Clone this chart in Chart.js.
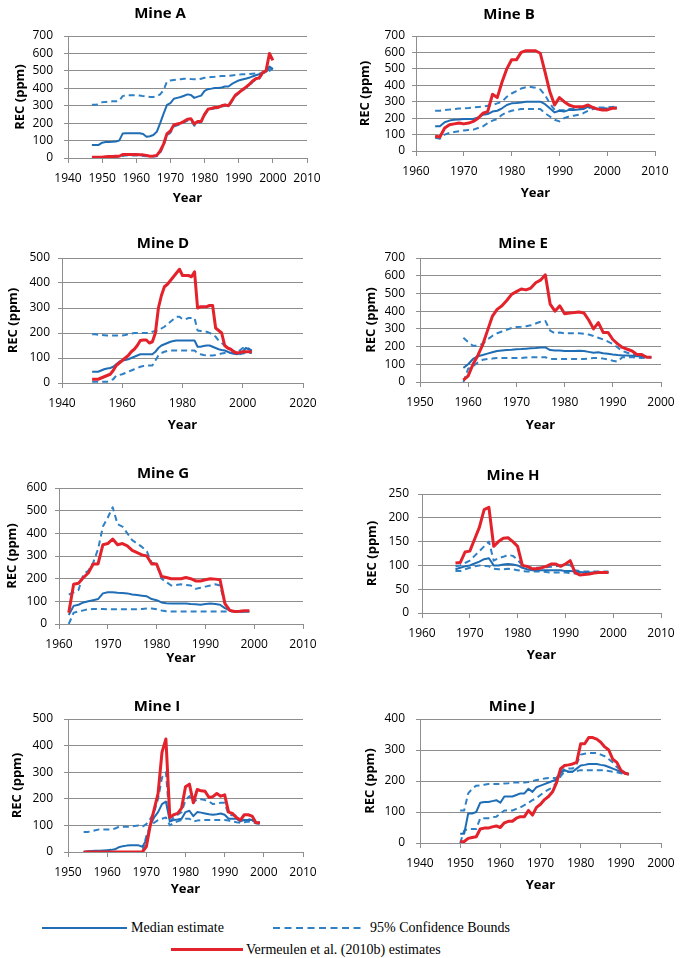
<!DOCTYPE html>
<html><head><meta charset="utf-8">
<script src="https://cdn.jsdelivr.net/npm/chart.js@4/dist/chart.umd.min.js"></script>
<style>
html,body{margin:0;padding:0;background:#fff;width:684px;height:958px;overflow:hidden;position:relative;}
canvas{position:absolute;}
.lg{position:absolute;font-family:'Liberation Serif','Times New Roman',serif;font-size:14px;color:#000;white-space:nowrap;line-height:16px;}
.ln{position:absolute;}
</style></head><body>
<script>
// ---------------- DATA ----------------
const yearsA = [1947,1948,1949,1950,1951,1952,1953,1954,1955,1956,1957,1958,1959,1960,1961,1962,1963,1964,1965,1966,1967,1968,1969,1970,1971,1972,1973,1974,1975,1976,1977,1978,1979,1980,1981,1982,1983,1984,1985,1986,1987,1988,1989,1990,1991,1992,1993,1994,1995,1996,1997,1998,1999,2000];
const medianA = [75,75,75,88,92,92,93,95,100,140, 142,142,142,142,142,138,122,125,132,150, 200,255,305,315,340,345,350,357,365,362, 345,352,358,385,395,398,402,402,405,410, 410,425,435,445,450,455,460,468,475,480, 488,500,525,510];
const upperA = [305,305,308,320,322,323,325,325,328,355, 360,360,360,360,358,355,352,350,350,355, 365,390,440,445,448,450,452,455,455,453, 452,450,455,460,462,465,466,468,470,470, 472,474,476,478,480,481,482,484,485,485, 488,490,500,515];
const lowerA = [0,0,0,0,2,3,4,5,6,12, 15,15,15,15,14,12,10,8,8,10, 30,70,130,145,180,188,195,205,215,215, 185,200,205,245,275,280,285,285,295,300, 295,325,355,370,385,400,415,435,450,455, 485,495,510,515];
const vermA = [5,5,5,5,7,8,8,10,10,20, 20,20,20,20,18,18,15,10,12,15, 40,80,140,155,190,195,200,210,222,225, 195,210,210,250,280,285,290,290,300,305, 300,330,360,375,390,405,420,440,455,460, 490,500,600,560];
const xTicksA = [1940,1950,1960,1970,1980,1990,2000,2010];
const yTicksA = [0,100,200,300,400,500,600,700];

const yearsB = [1964,1965,1966,1967,1968,1969,1970,1971,1972,1973,1974,1975,1976,1977,1978,1979,1980,1981,1982,1983,1984,1985,1986,1987,1988,1989,1990,1991,1992,1993,1994,1995,1996,1997,1998,1999,2000,2001,2002];
const medianB = [150,150,175,185,190,192,195,195,195,205, 220,225,240,245,260,280,290,292,295,300, 300,300,300,285,260,235,245,240,250,250, 252,255,270,265,255,255,255,260,265];
const upperB = [245,245,250,252,255,258,260,262,265,268, 270,275,280,290,300,330,350,365,380,388, 390,385,375,340,290,250,248,250,255,255, 258,260,262,265,265,265,265,268,270];
const lowerB = [80,75,100,110,115,120,125,128,130,140, 150,170,185,195,220,235,245,250,255,255, 255,255,255,230,210,190,180,200,210,215, 220,230,245,255,258,260,260,262,265];
const vermB = [90,85,140,160,165,170,165,170,180,200, 230,240,345,325,420,500,555,555,600,610, 610,610,595,480,360,280,325,300,280,270, 270,270,280,265,255,250,250,260,260];
const xTicksB = [1960,1970,1980,1990,2000,2010];
const yTicksB = [0,100,200,300,400,500,600,700];

const yearsD = [1950,1951,1952,1953,1954,1955,1956,1957,1958,1959,1960,1961,1962,1963,1964,1965,1966,1967,1968,1969,1970,1971,1972,1973,1974,1975,1976,1977,1978,1979,1980,1981,1982,1983,1984,1985,1986,1987,1988,1989,1990,1991,1992,1993,1994,1995,1996,1997,1998,1999,2000,2001,2002,2003];
const medianD = [45,45,45,50,55,58,60,65,75,85, 90,92,95,100,105,110,115,115,115,115, 115,125,140,150,155,160,165,168,170,170, 170,170,170,170,170,145,145,148,150,150, 145,140,135,132,130,125,120,118,115,118, 125,140,135,130];
const upperD = [195,195,193,192,191,190,190,190,190,190, 190,192,195,198,200,200,200,200,200,200, 205,208,210,218,225,235,245,255,265,265, 255,255,260,260,260,210,208,206,205,200, 195,185,170,160,150,140,135,128,125,130, 140,140,138,125];
const lowerD = [5,5,5,5,5,5,10,15,30,32, 35,40,45,50,55,60,65,68,70,70, 70,90,110,120,125,128,130,130,130,130, 130,130,130,130,130,120,115,112,110,110, 110,112,115,118,120,120,120,118,115,115, 118,120,120,120];
const vermD = [15,15,15,20,25,30,35,50,70,80, 90,100,110,125,135,150,170,172,172,160, 165,200,300,350,385,395,410,425,440,455, 430,430,430,425,445,300,305,305,305,310, 310,220,210,200,150,140,135,125,120,122, 125,125,125,125];
const xTicksD = [1940,1960,1980,2000,2020];
const yTicksD = [0,100,200,300,400,500];

const yearsE = [1959,1960,1961,1962,1963,1964,1965,1966,1967,1968,1969,1970,1971,1972,1973,1974,1975,1976,1977,1978,1979,1980,1981,1982,1983,1984,1985,1986,1987,1988,1989,1990,1991,1992,1993,1994,1995,1996,1997,1998];
const medianE = [80,100,130,145,152,160,168,175,178,180, 182,185,186,188,190,192,195,195,180,178, 178,175,175,175,176,175,170,165,168,162, 160,155,152,150,150,148,146,145,142,140];
const upperE = [250,225,205,205,215,240,260,275,285,295, 305,310,312,315,320,330,340,345,290,275, 280,275,275,275,275,272,268,260,250,240, 228,215,195,175,165,160,150,145,142,140];
const lowerE = [0,75,90,110,125,130,132,135,135,135, 135,135,136,138,140,140,140,140,130,130, 130,130,130,130,130,130,132,135,135,132, 128,120,115,140,140,140,138,135,138,140];
const vermE = [10,35,100,150,210,290,370,410,430,460, 495,510,525,520,530,560,575,605,440,400, 430,385,390,392,395,390,350,300,335,280, 280,240,215,195,185,175,155,155,140,140];
const xTicksE = [1950,1960,1970,1980,1990,2000];
const yTicksE = [0,100,200,300,400,500,600,700];

const yearsG = [1962,1963,1964,1965,1966,1967,1968,1969,1970,1971,1972,1973,1974,1975,1976,1977,1978,1979,1980,1981,1982,1983,1984,1985,1986,1987,1988,1989,1990,1991,1992,1993,1994,1995,1996,1997,1998,1999];
const medianG = [40,80,85,95,100,105,110,135,140,140, 138,137,135,130,128,125,122,110,105,95, 92,90,90,90,90,88,87,85,88,90, 88,85,70,60,55,55,55,55];
const upperG = [130,140,150,220,235,270,330,430,470,515, 440,430,400,370,355,340,320,270,265,200, 185,170,172,175,172,170,155,160,165,170, 175,170,90,60,55,55,55,55];
const lowerG = [0,50,55,60,65,66,66,66,65,65, 65,65,65,65,65,66,68,68,65,60, 56,55,55,55,55,55,55,55,55,55, 55,55,55,55,55,55,55,55];
const vermG = [50,175,180,205,225,265,265,350,355,375, 350,355,345,325,315,305,300,265,265,210, 205,200,200,200,205,200,190,190,195,200, 198,195,90,60,55,56,58,58];
const xTicksG = [1960,1970,1980,1990,2000,2010];
const yTicksG = [0,100,200,300,400,500,600];

const yearsH = [1967,1968,1969,1970,1971,1972,1973,1974,1975,1976,1977,1978,1979,1980,1981,1982,1983,1984,1985,1986,1987,1988,1989,1990,1991,1992,1993,1994,1995,1996,1997,1998,1999];
const medianH = [92,95,98,100,104,108,113,115,100,100, 102,103,102,100,95,92,90,90,90,90, 90,90,90,88,88,87,86,85,85,85, 85,85,85];
const upperH = [98,100,105,110,120,130,140,150,110,115, 118,122,120,112,100,97,95,95,95,96, 97,98,100,103,100,90,88,87,87,87, 87,87,87];
const lowerH = [88,88,92,95,98,100,99,98,93,92, 92,93,92,90,88,87,87,87,87,86, 85,85,85,85,84,83,83,83,84,84, 85,85,85];
const vermH = [105,106,128,130,155,180,217,222,140,150, 157,158,150,140,100,98,93,93,95,98, 103,103,98,103,110,85,80,81,82,84, 85,85,85];
const xTicksH = [1960,1970,1980,1990,2000,2010];
const yTicksH = [0,50,100,150,200,250];

const yearsI = [1954,1955,1956,1957,1958,1959,1960,1961,1962,1963,1964,1965,1966,1967,1968,1969,1970,1971,1972,1973,1974,1975,1976,1977,1978,1979,1980,1981,1982,1983,1984,1985,1986,1987,1988,1989,1990,1991,1992,1993,1994,1995,1996,1997,1998,1999];
const medianI = [0,3,4,5,5,6,7,8,10,18, 22,24,25,25,25,20,45,100,130,150, 180,190,115,120,122,125,150,155,135,150, 148,145,142,140,142,145,140,125,125,125, 115,120,120,120,110,110];
const upperI = [75,75,78,82,85,85,85,85,88,95, 95,95,95,98,100,95,105,125,150,200, 280,300,115,130,140,150,195,210,185,200, 198,195,190,180,182,185,185,140,138,135, 120,122,125,120,112,110];
const lowerI = [0,0,0,0,0,0,0,0,0,0, 0,0,0,0,0,0,60,100,110,120, 125,130,100,110,115,120,125,125,115,118, 120,120,120,120,120,120,120,118,115,112, 110,112,115,112,108,105];
const vermI = [0,0,0,0,0,0,0,0,0,0, 0,0,0,0,0,0,20,100,160,220, 375,425,130,140,145,165,245,255,185,235, 230,228,205,208,220,210,215,150,145,130, 120,140,140,135,110,110];
const xTicksI = [1950,1960,1970,1980,1990,2000,2010];
const yTicksI = [0,100,200,300,400,500];

const yearsJ = [1950,1951,1952,1953,1954,1955,1956,1957,1958,1959,1960,1961,1962,1963,1964,1965,1966,1967,1968,1969,1970,1971,1972,1973,1974,1975,1976,1977,1978,1979,1980,1981,1982,1983,1984,1985,1986,1987,1988,1989,1990,1991,1992];
const medianJ = [30,30,95,95,100,130,132,132,135,138, 130,150,150,150,155,160,160,175,165,180, 185,190,195,200,205,225,235,230,230,240, 250,252,255,255,255,252,250,245,240,235, 230,225,222];
const upperJ = [105,105,160,175,185,186,188,190,190,190, 190,192,193,195,195,195,195,197,200,203, 205,208,210,210,210,230,240,240,240,255, 285,288,290,290,290,285,280,270,260,245, 235,228,222];
const lowerJ = [0,40,45,45,45,80,80,80,83,85, 95,105,105,105,110,115,122,130,138,145, 155,165,172,180,195,215,230,230,230,232, 235,235,235,235,235,235,235,232,230,228, 225,223,222];
const vermJ = [3,5,15,18,20,45,48,48,52,55, 50,65,70,70,80,85,85,105,90,115, 125,140,150,165,195,240,250,252,255,260, 320,320,340,340,335,325,310,300,270,260, 235,225,222];
const xTicksJ = [1940,1950,1960,1970,1980,1990,2000];
const yTicksJ = [0,100,200,300,400];

const seriesNames = ['Median estimate','95% Confidence Bounds','Vermeulen et al. (2010b) estimates'];

// ---------------- STYLE / LAYOUT ----------------
const COL_MED = '#1f6db5', COL_CB = '#2f80c4', COL_RED = '#e3222b', COL_GRID = '#8e8e8e';
Chart.defaults.font.family = "'Open Sans','Liberation Sans',sans-serif";

const mines = [
  {title:'Mine A', years:yearsA, med:medianA, up:upperA, lo:lowerA, ver:vermA, xt:xTicksA, yt:yTicksA,
   lay:{L:68,R:307,T:36,B:158,tx:160,ty:14,ytx:20,yearY:198,gap:15}},
  {title:'Mine B', years:yearsB, med:medianB, up:upperB, lo:lowerB, ver:vermB, xt:xTicksB, yt:yTicksB,
   lay:{L:416,R:655,T:36,B:151,tx:509,ty:15,ytx:365,yearY:193,gap:11}},
  {title:'Mine D', years:yearsD, med:medianD, up:upperD, lo:lowerD, ver:vermD, xt:xTicksD, yt:yTicksD,
   lay:{L:62,R:303,T:258,B:383,tx:163,ty:244,ytx:13,yearY:425,gap:12}},
  {title:'Mine E', years:yearsE, med:medianE, up:upperE, lo:lowerE, ver:vermE, xt:xTicksE, yt:yTicksE,
   lay:{L:420,R:661,T:258,B:382,tx:523,ty:244,ytx:371,yearY:425,gap:15}},
  {title:'Mine G', years:yearsG, med:medianG, up:upperG, lo:lowerG, ver:vermG, xt:xTicksG, yt:yTicksG,
   lay:{L:59,R:303,T:488,B:624,tx:163,ty:474,ytx:12,yearY:658,gap:12}},
  {title:'Mine H', years:yearsH, med:medianH, up:upperH, lo:lowerH, ver:vermH, xt:xTicksH, yt:yTicksH,
   lay:{L:422,R:661,T:494,B:613,tx:513,ty:476,ytx:372,yearY:655,gap:13}},
  {title:'Mine I', years:yearsI, med:medianI, up:upperI, lo:lowerI, ver:vermI, xt:xTicksI, yt:yTicksI,
   lay:{L:68,R:303,T:719,B:852,tx:157,ty:707,ytx:17,yearY:889,gap:15}},
  {title:'Mine J', years:yearsJ, med:medianJ, up:upperJ, lo:lowerJ, ver:vermJ, xt:xTicksJ, yt:yTicksJ,
   lay:{L:420,R:661,T:719,B:843,tx:512,ty:707,ytx:370,yearY:885,gap:15}}
];

function makeChart(m) {
  const lay = m.lay;
  const u = 2*lay.tx - lay.R;
  const cl = Math.min(u, lay.ytx - 10) - 2;
  const pl = u - cl;
  const pr = 22;
  const cw = lay.R + pr - cl;
  const ct = lay.ty - 12;
  const Hx = 52;
  const ch = lay.B + Hx - ct;
  const W = lay.L - u;
  const tLh = 18;
  const tpt = lay.ty - ct - tLh/2;
  const tpb = lay.T - lay.ty - tLh/2;
  const aLh = 13*1.2;
  const ytPad = lay.ytx - u - aLh/2;
  const xtPad = lay.B + Hx - lay.yearY - aLh/2;
  const c = document.createElement('canvas');
  c.width = cw; c.height = ch;
  c.style.left = cl+'px'; c.style.top = ct+'px'; c.style.width = cw+'px'; c.style.height = ch+'px';
  document.body.appendChild(c);
  const pts = arr => m.years.map((y,i) => ({x:y, y:arr[i]}));
  new Chart(c, {
    type:'line',
    data:{datasets:[
      {label:seriesNames[2], data:pts(m.ver), borderColor:COL_RED, borderWidth:3},
      {label:seriesNames[0], data:pts(m.med), borderColor:COL_MED, borderWidth:2},
      {label:seriesNames[1], data:pts(m.up), borderColor:COL_CB, borderWidth:2, borderDash:[6,4]},
      {label:seriesNames[1], data:pts(m.lo), borderColor:COL_CB, borderWidth:2, borderDash:[6,4]}
    ]},
    options:{
      responsive:false, animation:false, devicePixelRatio:1,
      layout:{padding:{left:pl, right:pr, top:0, bottom:0}},
      elements:{point:{radius:0}, line:{tension:0, fill:false, borderJoinStyle:'round'}},
      plugins:{
        legend:{display:false}, tooltip:{enabled:false},
        title:{display:true, text:m.title, color:'#000', font:{size:15, weight:'bold', lineHeight:1.2},
               padding:{top:tpt, bottom:tpb}}
      },
      scales:{
        x:{type:'linear', min:m.xt[0], max:m.xt[m.xt.length-1],
           afterBuildTicks: ax => { ax.ticks = m.xt.map(v => ({value:v})); },
           afterFit: ax => { ax.height = Hx; },
           grid:{drawOnChartArea:false, drawTicks:true, tickLength:5, color:COL_GRID},
           border:{display:true, color:COL_GRID, width:1},
           ticks:{padding:8, color:'#000', font:{size:12}, maxRotation:0, autoSkip:false, format:{useGrouping:false}},
           title:{display:true, text:'Year', color:'#000', font:{size:13, weight:'bold', lineHeight:1.2}, padding:{top:0, bottom:xtPad}}},
        y:{type:'linear', min:m.yt[0], max:m.yt[m.yt.length-1],
           afterBuildTicks: ax => { ax.ticks = m.yt.map(v => ({value:v})); },
           afterFit: ax => { ax.width = W; },
           grid:{drawOnChartArea:true, drawTicks:true, tickLength:4, color:COL_GRID},
           border:{display:true, color:COL_GRID, width:1},
           ticks:{padding:lay.gap-4, color:'#000', font:{size:12}, autoSkip:false},
           title:{display:true, text:'REC (ppm)', color:'#000', font:{size:13, weight:'bold', lineHeight:1.2}, padding:{top:ytPad, bottom:0}}}
      }
    }
  });
}
mines.forEach(makeChart);
</script>

<!-- shared legend -->
<div class="ln" style="left:42px;top:927px;width:85px;height:2px;background:#1f6db5;"></div>
<div class="lg" style="left:131px;top:920px;">Median estimate</div>
<svg class="ln" style="left:273px;top:926px;" width="92" height="4"><line x1="0" y1="2" x2="92" y2="2" stroke="#2f80c4" stroke-width="2" stroke-dasharray="7 4.5"/></svg>
<div class="lg" style="left:370px;top:920px;">95% Confidence Bounds</div>
<div class="ln" style="left:171px;top:948px;width:72px;height:3px;background:#e3222b;"></div>
<div class="lg" style="left:246px;top:942px;">Vermeulen et al. (2010b) estimates</div>
</body></html>
